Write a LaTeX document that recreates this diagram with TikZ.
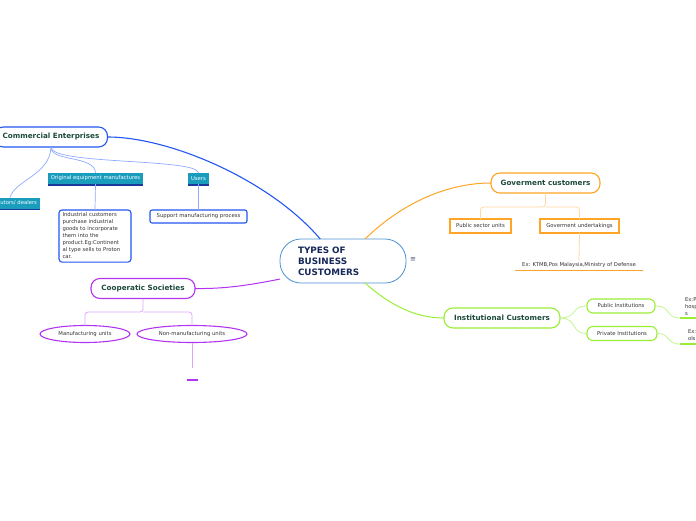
\documentclass[tikz,border=0pt]{standalone}
\usepackage{fontspec}
\setmainfont{DejaVu Sans}
\usepackage{xcolor}
\usetikzlibrary{shapes.geometric,positioning,calc}

\definecolor{mainborder}{HTML}{4A92D2}
\definecolor{mainnavy}{HTML}{16285A}
\definecolor{topicgreen}{HTML}{1B4A3C}
\definecolor{commblue}{HTML}{2357F2}
\definecolor{commlight}{HTML}{8EAAFF}
\definecolor{tealbox}{HTML}{1A9CBD}
\definecolor{navyline}{HTML}{1A3A9C}
\definecolor{govorange}{HTML}{FFA526}
\definecolor{govlight}{HTML}{FFD8A2}
\definecolor{instgreen}{HTML}{9AEE36}
\definecolor{instlight}{HTML}{C4F590}
\definecolor{coopurple}{HTML}{B233F0}
\definecolor{cooplight}{HTML}{DBA6F8}
\definecolor{smalltext}{HTML}{333333}

\begin{document}
\begin{tikzpicture}[x=1pt,y=-1pt,inner sep=0,outer sep=0,
    topic/.style={draw=#1,fill=white,line width=1.1pt,rounded corners=9pt,
      minimum height=20pt,text=topicgreen,font=\bfseries\fontsize{7.2}{8}\selectfont},
    tealnode/.style={fill=tealbox,text=white,minimum height=11pt,inner xsep=3pt,
      font=\fontsize{5.3}{6}\selectfont},
    note/.style={draw=#1,fill=white,line width=1.1pt,text=smalltext,
      font=\fontsize{5.3}{7}\selectfont},
    pill/.style={draw=#1,fill=white,line width=1.1pt,rounded corners=6pt,text=smalltext,
      minimum height=14pt,font=\fontsize{5.3}{6}\selectfont},
    oval/.style={ellipse,draw=#1,fill=white,line width=1.1pt,text=smalltext,
      minimum height=17pt,font=\fontsize{5.3}{6}\selectfont},
    plain/.style={text=smalltext,font=\fontsize{5.3}{7}\selectfont}]

    \useasboundingbox (0,0) rectangle (696,520);

    % Central topic
    \node[draw=mainborder,fill=white,line width=0.8pt,rounded corners=21pt,
      minimum width=126pt,minimum height=44pt,text width=90pt,align=left,
      text=mainnavy,font=\bfseries\fontsize{8.8}{11}\selectfont] (root) at (343,261)
      {TYPES OF\\BUSINESS\\CUSTOMERS};
    \node[text=mainnavy!80,font=\fontsize{7}{7}\selectfont] (menu) at (413,260) {≡};

    % Main topics
    \node[topic=commblue,minimum width=113pt] (comm) at (51,137) {Commercial Enterprises};
    \node[topic=govorange,minimum width=109pt] (gov) at (545.5,183) {Goverment customers};
    \node[topic=instgreen,minimum width=116pt] (inst) at (502,318) {Institutional Customers};
    \node[topic=coopurple,minimum width=104pt] (coop) at (143,288.5) {Cooperatic Societies};

    % Main connectors
    \draw[commblue,line width=1.1pt] (root.136) .. controls (270,180) and (170,137) .. (comm.east);
    \draw[govorange,line width=1pt] (root.45) .. controls (400,205) and (445,183) .. (gov.west);
    \draw[instgreen,line width=1pt] (root.-45) .. controls (390,305) and (415,318) .. (inst.west);
    \draw[coopurple,line width=1pt] (root.196) .. controls (250,285) and (225,289) .. (coop.east);

    % Commercial enterprises
    \node[tealnode,anchor=east] (dealers) at (40,203) {Distributors/ dealers};
    \node[tealnode] (oem) at (95.5,178.5) {Original equipment manufactures};
    \node[tealnode] (users) at (198.5,178.5) {Users};
    \foreach \n in {dealers,oem,users}
      \draw[navyline,line width=1.3pt] ([yshift=-1pt]\n.south west) -- ([yshift=-1pt]\n.south east);

    \draw[commlight,line width=0.7pt] (comm.south) .. controls (50,175) and (15,180) .. (dealers.north);
    \draw[commlight,line width=0.7pt] (comm.south) .. controls (50,162) and (95,155) .. (oem.north);
    \draw[commlight,line width=0.7pt] (comm.south) .. controls (50,165) and (198,158) .. (users.north);

    \node[note=commblue,rounded corners=3pt,text width=65pt,inner xsep=3.5pt,inner ysep=3pt,
      align=left] (industrial) at (95,236)
      {Industrial customers\\purchase industrial\\goods to incorporate\\them into the\\product.Eg:Continent\\al type sells to Proton\\car.};
    \node[note=commblue,rounded corners=2pt,minimum width=97pt,minimum height=13pt] (support)
      at (198.5,216.5) {Support manufacturing process};
    \draw[commlight,line width=0.7pt] (oem.south) -- (industrial.north);
    \draw[commlight,line width=0.7pt] (users.south) -- (support.north);

    % Goverment customers
    \node[note=govorange,line width=1.5pt,minimum width=61pt,minimum height=14pt] (pubsector) at (480.5,226) {Public sector units};
    \node[note=govorange,line width=1.5pt,minimum width=79pt,minimum height=14pt] (undertake) at (579.5,226) {Goverment undertakings};
    \coordinate (govfork) at (545.5,207);
    \draw[govlight,line width=0.8pt,rounded corners=3pt] (pubsector.north) |- (govfork) -- (gov.south);
    \draw[govlight,line width=0.8pt,rounded corners=3pt] (undertake.north) |- (govfork);
    \node[plain,minimum width=128pt,minimum height=10pt] (govex) at (579,265.5)
      {Ex: KTMB,Pos Malaysia,Ministry of Defense};
    \draw[govorange,line width=1pt] (govex.south west) -- (govex.south east);
    \draw[govlight,line width=0.8pt] (undertake.south) -- (govex.north);

    % Institutional customers
    \node[pill=instgreen,minimum width=68pt] (pubinst) at (621,306) {Public Institutions};
    \node[pill=instgreen,minimum width=70pt] (privinst) at (622,333.5) {Private Institutions};
    \draw[instlight,line width=0.8pt] (inst.east) .. controls (578,318) and (570,306) .. (pubinst.west);
    \draw[instlight,line width=0.8pt] (inst.east) .. controls (578,318) and (570,333.5) .. (privinst.west);
    \node[plain,anchor=south west,text width=50pt,align=left,inner xsep=5pt,inner ysep=2pt]
      (pubex) at (680,318) {Ex:Public\\hospital\\s};
    \node[plain,anchor=south west,text width=50pt,align=left,inner xsep=8pt,inner ysep=3pt]
      (privex) at (680,344) {Ex: Private\\ols};
    \draw[instgreen,line width=1.2pt] (pubex.south west) -- (pubex.south east);
    \draw[instgreen,line width=1.2pt] (privex.south west) -- (privex.south east);
    \draw[instlight,line width=0.8pt] (pubinst.east) .. controls (672,306) and (665,318) .. (pubex.south west);
    \draw[instlight,line width=0.8pt] (privinst.east) .. controls (672,333.5) and (665,344) .. (privex.south west);

    % Cooperatic societies
    \node[oval=coopurple,minimum width=90pt] (manuf) at (85,334) {Manufacturing units};
    \node[oval=coopurple,minimum width=110pt] (nonmanuf) at (192,334) {Non-manufacturing units};
    \coordinate (coopfork) at (143,312);
    \draw[cooplight,line width=0.8pt,rounded corners=3pt] (manuf.north) |- (coopfork) -- (coop.south);
    \draw[cooplight,line width=0.8pt,rounded corners=3pt] (nonmanuf.north) |- (coopfork);
    \node[minimum width=11pt,minimum height=12pt] (nonmanex) at (192,374) {};
    \draw[coopurple,line width=1.5pt] (nonmanex.south west) -- (nonmanex.south east);
    \draw[cooplight,line width=0.8pt] (nonmanuf.south) -- (nonmanex.north);

\end{tikzpicture}
\end{document}
